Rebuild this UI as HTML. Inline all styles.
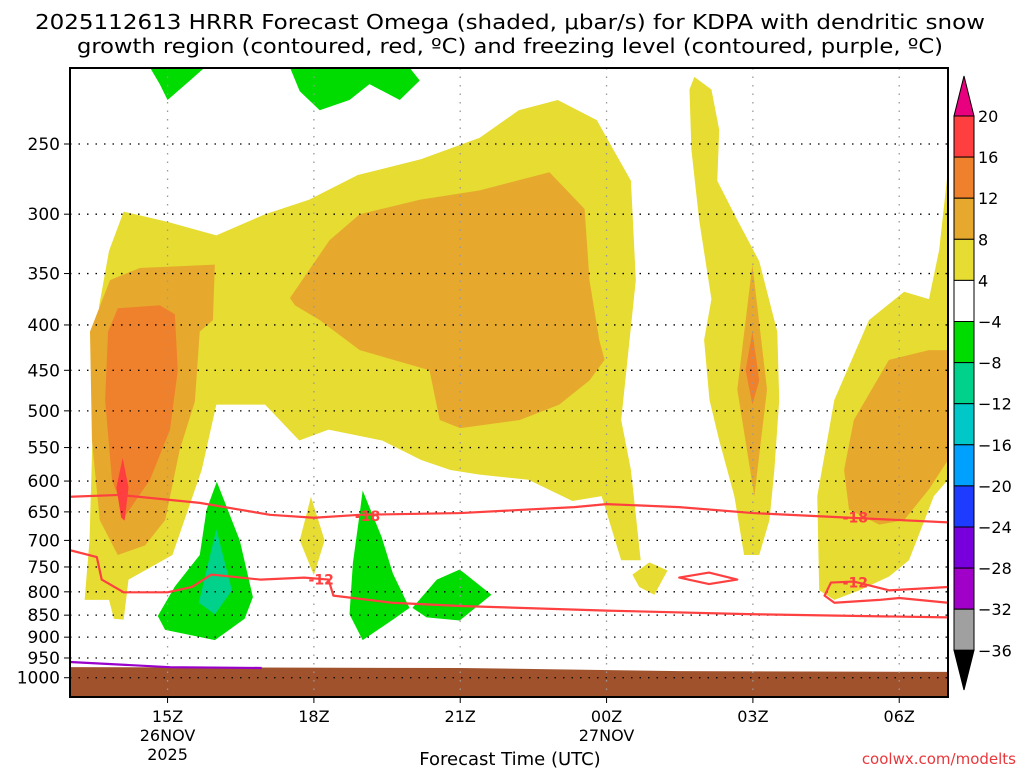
<!DOCTYPE html>
<html><head><meta charset="utf-8"><style>
body{margin:0;background:#fff;width:1024px;height:768px;overflow:hidden;font-family:"Liberation Sans","DejaVu Sans",sans-serif}
svg text{font-family:"DejaVu Sans","Liberation Sans",sans-serif}
</style></head><body>
<svg id="c" width="1024" height="768">
<text x="510" y="29" text-anchor="middle" font-size="20" textLength="950" lengthAdjust="spacingAndGlyphs">2025112613 HRRR Forecast Omega (shaded, μbar/s) for KDPA with dendritic snow</text>
<text x="510" y="53" text-anchor="middle" font-size="20" textLength="866" lengthAdjust="spacingAndGlyphs">growth region (contoured, red, ºC) and freezing level (contoured, purple, ºC)</text>
<g id="plot"></g>
<text x="510" y="765" text-anchor="middle" font-size="18">Forecast Time (UTC)</text>
<text x="1016" y="764" text-anchor="end" font-size="15" fill="#e8383c" font-family="Liberation Mono">coolwx.com/modelts</text>
</svg>
<script>
const hourDomain=[13,31];
const presTicks=[250,300,350,400,450,500,550,600,650,700,750,800,850,900,950,1000];
const timeTicks=[15,18,21,24,27,30];
const timeLabels=["15Z","18Z","21Z","00Z","03Z","06Z"];
const dateLabels={15:["26NOV","2025"],24:["27NOV"]};
const cbLevels=["20","16","12","8","4","−4","−8","−12","−16","−20","−24","−28","−32","−36"];
const cbColors=["#ff3f3f","#f0812c","#e6a92d","#e6dc32","#ffffff","#00dc00","#00d28c","#00c8c8","#00a0ff","#1e3cff","#7800dc","#a000c8","#a0a0a0"];
const yellowMain=[[13.3,817],[13.4,700],[13.5,450],[13.6,380],[13.8,330],[14.1,298],[15.0,306],[16.0,317],[17.0,300],[17.9,289],[18.9,271],[20.2,260],[21.4,246],[22.2,229],[23.0,223],[23.8,235],[24.5,275],[24.6,356],[24.3,512],[24.5,583],[24.7,737],[24.3,737],[23.9,624],[23.3,632],[22.4,598],[21.4,590],[20.8,583],[20.2,568],[19.4,540],[18.3,525],[17.7,540],[17.0,492],[16.0,492],[15.7,583],[15.1,727],[14.2,775],[14.1,860],[13.9,858],[13.8,817]];
const yellow03=[[25.7,217],[25.8,210],[26.15,217],[26.31,241],[26.27,275],[26.62,300],[27.13,339],[27.5,407],[27.54,486],[27.44,583],[27.34,664],[27.13,727],[26.82,727],[26.62,624],[26.31,540],[26.11,486],[26.0,416],[26.15,374],[25.9,305],[25.74,254]];
const yellow06=[[28.36,797],[28.32,624],[28.67,486],[29.38,395],[30.1,367],[30.61,374],[30.82,329],[31.0,267],[31.0,598],[30.71,624],[30.2,737],[29.79,769],[29.18,797],[28.67,817]];
const yellowSmall1=[[24.53,765],[24.88,741],[25.25,757],[24.98,806],[24.67,790]];
const yellowSmall2=[[17.94,625],[18.22,700],[18.0,766],[17.71,700]];
const orangeMid=[[17.51,373],[18.32,321],[18.94,300],[20.17,289],[21.4,282],[22.83,269],[23.55,296],[23.65,356],[23.85,416],[23.96,438],[23.65,462],[23.03,492],[22.22,512],[21.0,523],[20.58,512],[20.37,450],[18.94,427],[18.12,395],[17.61,380]];
const orangeLeft=[[13.41,407],[13.82,356],[14.43,345],[15.97,342],[15.93,395],[15.66,407],[15.56,488],[15.25,553],[14.95,664],[14.54,709],[13.98,727],[13.61,664],[13.45,540]];
const orange03=[[26.99,342],[27.29,473],[27.03,624],[26.68,473]];
const orange06=[[28.87,583],[29.07,512],[29.79,438],[30.61,427],[31.0,427],[31.0,568],[30.61,613],[30.1,664],[29.59,672],[28.97,646]];
const darkOrangeLeft=[[13.78,407],[13.98,383],[14.84,380],[15.15,389],[15.21,450],[15.05,525],[14.64,598],[14.13,657],[13.86,598],[13.72,486]];
const darkOrange03=[[26.99,407],[27.13,462],[26.99,492],[26.85,450]];
const redLeft=[[13.95,610],[14.08,565],[14.2,610],[14.12,665],[14.05,660]];
const green16=[[16.01,601],[16.48,700],[16.75,811],[16.58,858],[15.97,907],[14.95,883],[14.8,852],[15.15,789],[15.66,727],[15.8,646]];
const teal16=[[16.0,680],[16.32,797],[15.97,848],[15.64,823]];
const green19=[[19.0,615],[19.39,694],[19.62,763],[19.96,834],[19.62,860],[19.0,907],[18.73,848],[18.8,742],[18.94,652]];
const green21=[[20.02,834],[20.52,775],[20.99,755],[21.64,806],[20.99,862],[20.31,855]];
const greenTop1=[[14.64,205],[15.76,205],[15.46,212],[15.0,223],[14.84,214]];
const greenTop2=[[17.51,205],[19.96,205],[20.17,212],[19.76,223],[19.14,214],[18.73,223],[18.12,229],[17.71,218]];
const dgz18=[[13,625],[14.02,622],[15.66,635],[17.1,655],[18,660],[18.94,655],[21,652],[23.34,642],[24,637],[25.49,642],[27,652],[29,660],[31,668]];
const dgz12=[[13,718],[13.55,731],[13.65,775],[14.1,801],[15.0,801],[15.5,790],[15.9,765],[16.9,775],[17.8,771],[18.3,775],[18.4,808],[19.6,823],[21,830],[24,840],[27,848],[31,855]];
const dgz12b=[[31,790],[29.79,797],[29.07,779],[28.6,781],[28.47,808],[28.67,823],[29.59,817],[30.0,813],[31,823]];
const dgz12loop=[[25.49,771],[26.1,761],[26.68,775],[26.1,784]];
const freezing0=[[13,960],[15.05,973],[16.93,975]];
const groundPres=[[13,973],[21,975],[25.5,983],[31,985]];
const dgzLabels=[[19.1,657,"-18"],[29.1,660,"-18"],[18.15,775,"-12"],[29.1,781,"-12"]];

const L=70,R=948,T=68,B=697;
const X=h=>L+(h-hourDomain[0])/(hourDomain[1]-hourDomain[0])*(R-L);
const Y=p=>144+385*Math.log(p/250);
const NS="http://www.w3.org/2000/svg";
const plot=document.getElementById('plot');
function mk(tag,attrs,parent){const e=document.createElementNS(NS,tag);for(const k in attrs)e.setAttribute(k,attrs[k]);(parent||plot).appendChild(e);return e;}
const clip=mk('clipPath',{id:'pc'});mk('rect',{x:L,y:T,width:R-L,height:B-T},clip);
const g=mk('g',{'clip-path':'url(#pc)'});
function poly(pts,fill,name){const e=mk('polygon',{points:pts.map(d=>X(d[0])+','+Y(d[1])).join(' '),fill:fill},g);

}
function line(pts,stroke,w,name,close){const e=mk(close?'polygon':'polyline',{points:pts.map(d=>X(d[0])+','+Y(d[1])).join(' '),fill:'none',stroke:stroke,'stroke-width':w,'stroke-linejoin':'round'},g);

}
poly(yellowMain,'#e6dc32','omega-4-main');poly(yellow03,'#e6dc32','omega-4-03z');poly(yellow06,'#e6dc32','omega-4-06z');
poly(yellowSmall1,'#e6dc32','omega-4-small-00z');poly(yellowSmall2,'#e6dc32','omega-4-small-18z');
poly(orangeMid,'#e6a92d','omega-8-mid');poly(orangeLeft,'#e6a92d','omega-8-left');poly(orange03,'#e6a92d','omega-8-03z');poly(orange06,'#e6a92d','omega-8-06z');
poly(darkOrangeLeft,'#f0812c','omega-12-left');poly(darkOrange03,'#f0812c','omega-12-03z');poly(redLeft,'#ff3f3f','omega-16-left');
poly(green16,'#00dc00','omega-neg4-16z');poly(teal16,'#00d28c','omega-neg8-16z');poly(green19,'#00dc00','omega-neg4-19z');poly(green21,'#00dc00','omega-neg4-21z');
poly(greenTop1,'#00dc00','omega-neg4-top1');poly(greenTop2,'#00dc00','omega-neg4-top2');
poly(groundPres.concat([[31,1100],[13,1100]]),'#a0522d','ground');
presTicks.forEach(p=>{const e=mk('line',{x1:L,x2:R,y1:Y(p),y2:Y(p),stroke:'#000','stroke-width':1.3,'stroke-dasharray':'1.5,7'},g);

});
timeTicks.forEach(h=>{const e=mk('line',{x1:X(h),x2:X(h),y1:T,y2:B,stroke:'#999','stroke-width':1.3,'stroke-dasharray':'1.5,7'},g);

});
line(dgz18,'#ff4040',2.2,'dgz-minus18-contour');line(dgz12,'#ff4040',2.2,'dgz-minus12-contour');line(dgz12b,'#ff4040',2.2,'dgz-minus12-contour-right');line(dgz12loop,'#ff4040',2.2,'dgz-minus12-loop',true);
line(freezing0,'#9900cc',2.2,'freezing-level-contour');
dgzLabels.forEach(d=>{
const t=mk('text',{x:X(d[0]),y:Y(d[1])+5,'text-anchor':'middle','font-size':14,'font-weight':'bold',fill:'#ff4040'},g);t.textContent=d[2];

});
const fr=mk('rect',{x:L,y:T,width:R-L,height:B-T,fill:'none',stroke:'#000','stroke-width':2});


presTicks.forEach(p=>{mk('line',{x1:L-6,x2:L,y1:Y(p),y2:Y(p),stroke:'#000','stroke-width':1});
const t=mk('text',{x:60,y:Y(p)+6,'text-anchor':'end','font-size':17});t.textContent=p;

});
timeTicks.forEach((h,i)=>{mk('line',{x1:X(h),x2:X(h),y1:B,y2:B+6,stroke:'#000','stroke-width':1});
const t=mk('text',{x:X(h),y:722,'text-anchor':'middle','font-size':16});t.textContent=timeLabels[i];


(dateLabels[h]||[]).forEach((s,j)=>{const u=mk('text',{x:X(h),y:741+j*19,'text-anchor':'middle','font-size':16});u.textContent=s;

});});
const cbx=954,cbw=20,cbt=116,cbh=41.1;
const cb=mk('g',{});


mk('polygon',{points:`${cbx},${cbt} ${cbx+cbw/2},76 ${cbx+cbw},${cbt}`,fill:'#e8007f',stroke:'#000','stroke-width':1},cb);
cbColors.forEach((c,i)=>mk('rect',{x:cbx,y:cbt+i*cbh,width:cbw,height:cbh,fill:c,stroke:'#000','stroke-width':1},cb));
const cbb=cbt+cbColors.length*cbh;
mk('polygon',{points:`${cbx},${cbb} ${cbx+cbw/2},690 ${cbx+cbw},${cbb}`,fill:'#000',stroke:'#000'},cb);
cbLevels.forEach((s,i)=>{const t=mk('text',{x:978,y:cbt+i*cbh+6,'font-size':16},cb);t.textContent=s;});
</script>
</body></html>
